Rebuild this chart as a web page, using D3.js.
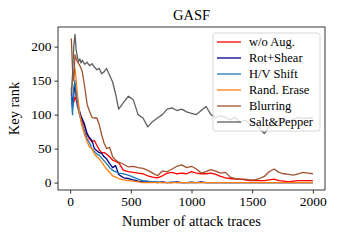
<!DOCTYPE html>
<html><head><meta charset="utf-8">
<script src="https://cdn.jsdelivr.net/npm/d3@7"></script>
<style>body{margin:0;background:#fff}svg{display:block}text{font-family:"Liberation Serif","DejaVu Serif",serif}</style>
</head><body><div id="c"></div>
<script>
const traces = [10,20,30,40,50,60,70,80,90,100,120,140,160,180,200,220,240,260,280,300,325,350,375,400,440,480,520,560,600,640,680,720,760,800,840,880,920,960,1000,1040,1080,1120,1160,1200,1240,1280,1320,1360,1400,1440,1480,1520,1560,1600,1640,1680,1720,1760,1800,1840,1880,1920,1960,2000];
const woAug = [115,122,118,126,122,112,108,100,95,90,82,70,64,60,62,55,48,44,44,42,38,33,31,29,18,16,15,14,13,10,8,7,10,14,15,13,14,13,16,14,13,13,14,12,9,7,6,5,5,4,3,3,3,3,4,5,3,2,1,2,3,3,3,3];
const rotShear = [140,110,130,145,128,120,110,104,98,94,85,72,66,62,50,47,44,43,38,35,28,22,25,12,7,6,4,2,1,1,1,0,1,0,0,1,0,0,0,0,1,0,0,0,0,0,0,0,0,0,0,0,0,0,0,0,0,0,0,0,0,0,0,0];
const hvShift = [125,100,140,150,130,115,105,98,92,85,75,64,58,50,46,42,40,36,32,28,22,18,16,14,13,11,8,5,3,2,1,1,0,0,1,0,0,0,1,0,0,0,0,0,0,0,0,0,0,0,0,0,0,0,0,0,0,0,0,0,0,0,0,0];
const randErase = [130,150,160,168,150,130,115,100,90,82,70,60,52,50,42,38,35,30,25,20,15,10,8,6,4,3,2,1,0,0,0,0,0,0,0,0,0,0,0,0,0,0,0,0,0,0,0,0,0,0,0,0,0,0,0,0,0,0,0,0,0,0,0,0];
const blurring = [212,165,150,188,182,178,175,172,168,163,141,115,105,96,95,95,85,70,58,50,52,38,33,30,27,23,24,22,21,18,14,10,17,16,20,24,26,22,24,20,14,16,19,17,14,15,8,6,5,5,4,4,6,9,16,20,15,13,12,11,13,15,14,13];
const saltPepper = [130,160,200,218,195,185,178,182,176,180,174,177,172,175,170,166,168,160,163,168,158,148,130,108,118,127,122,100,95,82,90,95,100,108,110,106,108,104,102,100,106,112,100,96,98,96,92,96,88,92,86,90,80,72,82,88,92,95,90,93,96,94,95,95];
const seriesNames = ["w/o Aug.","Rot+Shear","H/V Shift","Rand. Erase","Blurring","Salt&Pepper"];
const seriesValues = [woAug, rotShear, hvShift, randErase, blurring, saltPepper];
const colors = ["#ff0000","#00008b","#1f77b4","#ff7f0e","#a0522d","#5f5f5f"];
const xTicks = [0,500,1000,1500,2000];
const yTicks = [0,50,100,150,200];

const W=340,H=240, L=58, R=325, T=27, B=190;
const svg=d3.select("#c").append("svg").attr("width",W).attr("height",H);
const x=d3.scaleLinear().domain([-100,2100]).range([L,R]);
const y=d3.scaleLinear().domain([-10.9,228.9]).range([B,T]);

const line=d3.line().x((d,i)=>x(traces[i])).y(d=>y(d));
seriesValues.forEach((vals,k)=>{
  svg.append("path").datum(vals).attr("d",line).attr("fill","none")
    .attr("stroke",colors[k]).attr("stroke-width",1.3).attr("stroke-linejoin","round");
});

const xa=svg.append("g").attr("transform",`translate(0,${B})`).call(d3.axisBottom(x).tickValues(xTicks).tickSize(3.5).tickPadding(3).tickFormat(d3.format("d")));
const ya=svg.append("g").attr("transform",`translate(${L},0)`).call(d3.axisLeft(y).tickValues(yTicks).tickSize(3.5).tickPadding(3).tickFormat(d3.format("d")));
[xa,ya].forEach(a=>{a.select(".domain").remove();a.selectAll("text").attr("font-size",13.5).attr("font-family","Liberation Serif").attr("fill","#000");a.selectAll("line").attr("stroke","#000").attr("stroke-width",0.8);});
svg.append("rect").attr("x",L).attr("y",T).attr("width",R-L).attr("height",B-T).attr("fill","none").attr("stroke","#222").attr("stroke-width",0.9);

svg.append("text").attr("x",(L+R)/2).attr("y",20).attr("text-anchor","middle").attr("font-size",14.5).text("GASF");
svg.append("text").attr("x",(L+R)/2).attr("y",226).attr("text-anchor","middle").attr("font-size",14.5).text("Number of attack traces");
svg.append("text").attr("transform",`translate(19,${(T+B)/2}) rotate(-90)`).attr("text-anchor","middle").attr("font-size",14.5).text("Key rank");

const lg=svg.append("g");
lg.append("rect").attr("x",213).attr("y",33).attr("width",107).attr("height",98).attr("rx",2.5)
  .attr("fill","#fff").attr("fill-opacity",0.8).attr("stroke","#ccc").attr("stroke-width",0.8);
seriesNames.forEach((n,k)=>{
  const yy=42+k*16;
  lg.append("line").attr("x1",217).attr("x2",241).attr("y1",yy).attr("y2",yy).attr("stroke",colors[k]).attr("stroke-width",1.3);
  lg.append("text").attr("x",249).attr("y",yy+4).attr("font-size",12.5).text(n);
});
</script></body></html>
